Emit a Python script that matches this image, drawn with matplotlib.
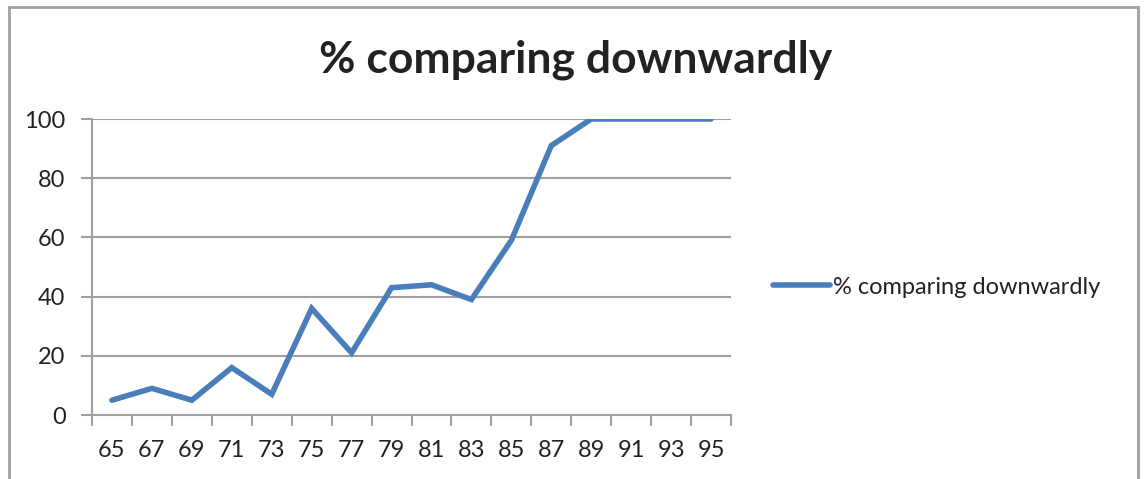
import matplotlib.pyplot as plt
import matplotlib.patches as patches
import numpy as np

plt.rcParams['font.family'] = ['Lato', 'DejaVu Sans']

# data
ages = ['65', '67', '69', '71', '73', '75', '77', '79', '81', '83', '85', '87', '89', '91', '93', '95']
pct_down = [5, 9, 5, 16, 7, 36, 21, 43, 44, 39, 59, 91, 100, 100, 100, 100]
series_name = '% comparing downwardly'

grey = '#a0a0a0'
blue = '#4a7ebb'
txt = '#222222'

fig = plt.figure(figsize=(11.44, 4.79), dpi=100)
ax = fig.add_axes([92 / 1144, 64 / 479, 639 / 1144, 296 / 479])

x = np.arange(len(ages))
ax.plot(x, pct_down, color=blue, linewidth=4, solid_capstyle='round',
        solid_joinstyle='miter', label=series_name)

ax.set_xlim(-0.5, len(ages) - 0.5)
ax.set_ylim(0, 100)
ax.set_yticks(np.arange(0, 101, 20))
ax.grid(axis='y', color=grey, linewidth=1.5)
ax.set_axisbelow(True)

# category boundaries as major ticks, labels on centres
ax.set_xticks(np.arange(-0.5, len(ages), 1.0))
ax.set_xticklabels([])
ax.set_xticks(x, minor=True)
ax.set_xticklabels(ages, minor=True)
ax.tick_params(axis='x', which='major', length=8, width=1.5, color=grey)
ax.tick_params(axis='x', which='minor', length=0, pad=18, labelsize=17, labelcolor=txt)
ax.tick_params(axis='y', length=8, width=1.5, color=grey, pad=11, labelsize=17, labelcolor=txt)

for s in ['top', 'right']:
    ax.spines[s].set_visible(False)
for s in ['left', 'bottom']:
    ax.spines[s].set_color(grey)
    ax.spines[s].set_linewidth(1.5)

fig.text(576 / 1144, 1 - 60 / 479, series_name, ha='center', va='center',
         fontsize=32, fontweight='bold', color=txt)

ax.legend(loc='center left', bbox_to_anchor=(752 / 1144, 1 - 287 / 479),
          bbox_transform=fig.transFigure, frameon=False, fontsize=17,
          handlelength=2.4, handletextpad=0.15, labelcolor=txt)

# chart border
border = patches.Rectangle((9 / 1144, -0.1), 1129 / 1144, 1.1 - 7 / 479,
                           transform=fig.transFigure, fill=False,
                           edgecolor=grey, linewidth=2, clip_on=False)
fig.patches.append(border)

fig.savefig('out.png', dpi=100)
